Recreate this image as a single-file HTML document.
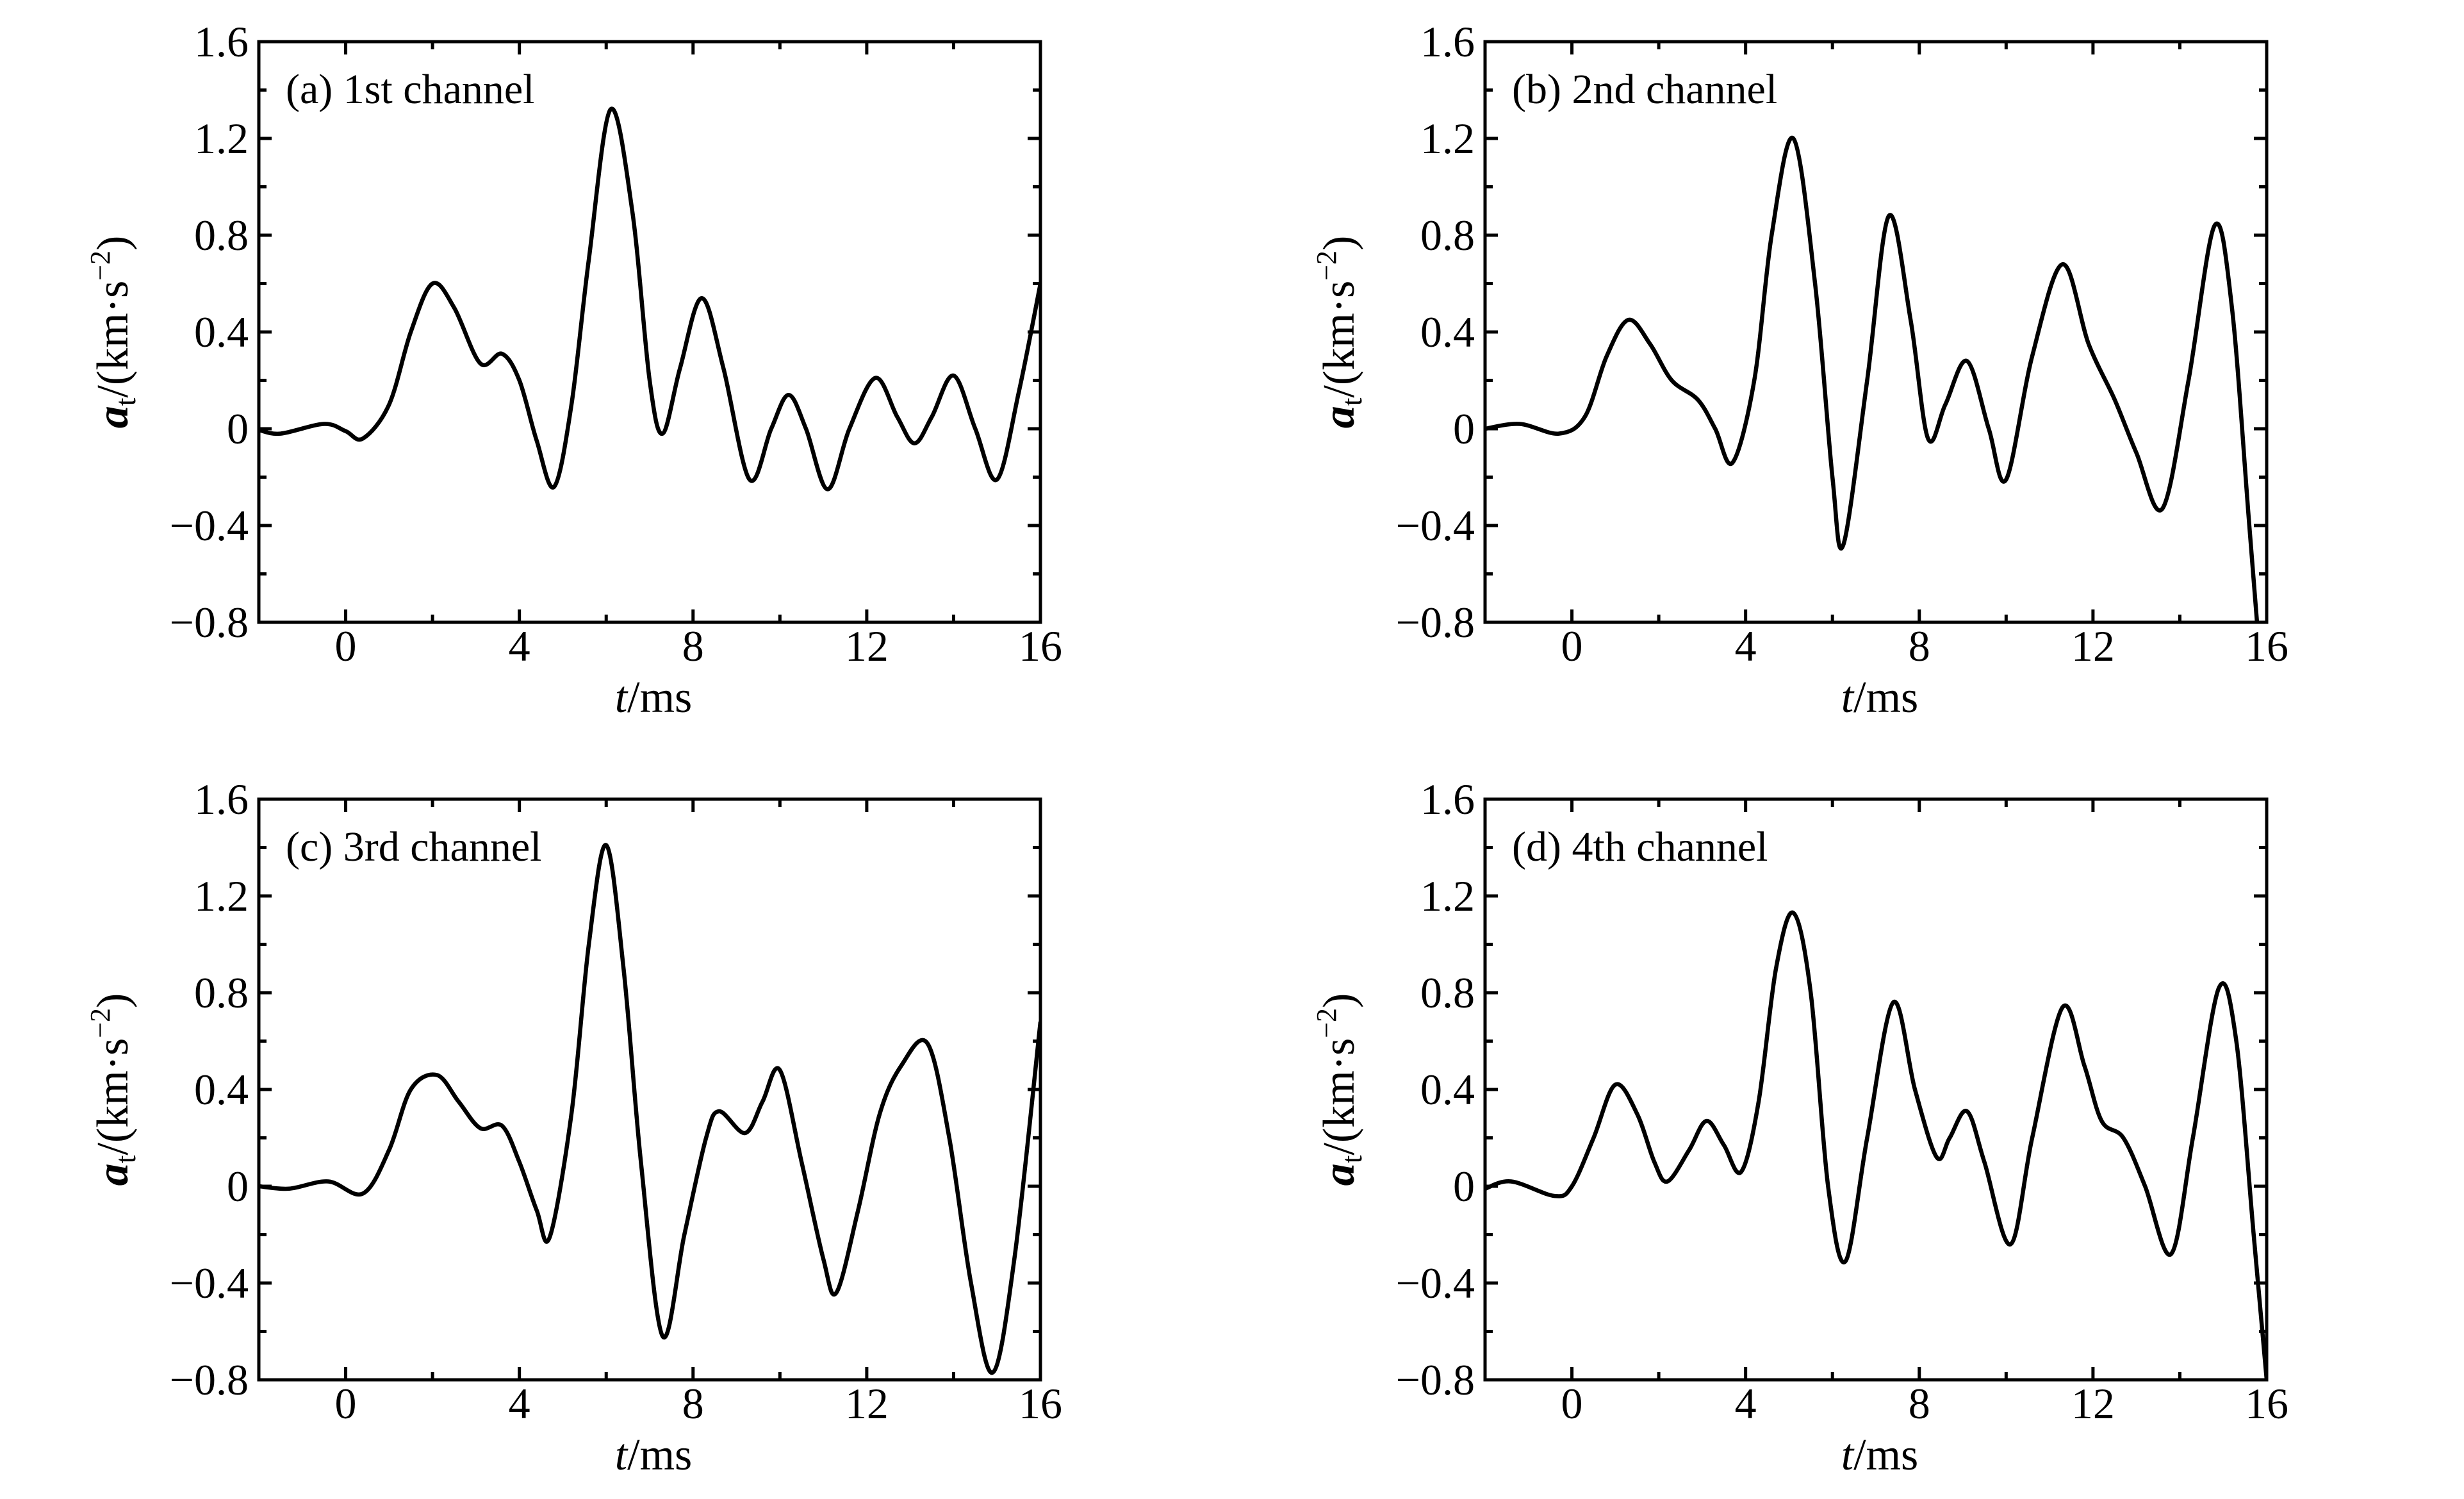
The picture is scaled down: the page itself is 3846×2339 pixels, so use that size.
<!DOCTYPE html>
<html><head><meta charset="utf-8">
<style>
html,body{margin:0;padding:0;background:#fff;}
svg{display:block;}
text{font-family:"Liberation Serif",serif;fill:#000;}
</style></head>
<body>
<svg id="fig" width="3846" height="2339" viewBox="0 0 3846 2339" xmlns="http://www.w3.org/2000/svg"></svg>
<script>
const xTicks = [0,4,8,12,16];
const yTicks = [-0.8,-0.4,0,0.4,0.8,1.2,1.6];
const yTickLabels = ["\u22120.8","\u22120.4","0","0.4","0.8","1.2","1.6"];
const panelTitles = ["(a) 1st channel","(b) 2nd channel","(c) 3rd channel","(d) 4th channel"];

const tA = [-2,-1.5,-0.5,0,0.4,1,1.5,2,2.5,3.1,3.6,4,4.4,4.8,5.2,5.6,6.1,6.6,7,7.3,7.7,8.2,8.7,9.3,9.8,10.2,10.6,11.1,11.6,12.2,12.7,13.1,13.5,14,14.5,15,15.5,16];
const vA = [-0.005,-0.02,0.02,-0.01,-0.04,0.1,0.4,0.6,0.5,0.27,0.31,0.2,-0.05,-0.24,0.1,0.7,1.32,0.9,0.2,-0.02,0.25,0.54,0.25,-0.21,0,0.14,0,-0.25,0,0.21,0.05,-0.06,0.05,0.22,0,-0.21,0.15,0.6];

const tB = [-2,-1.2,-0.3,0.3,0.8,1.3,1.8,2.3,2.9,3.3,3.7,4.2,4.6,5.1,5.6,6,6.25,6.8,7.3,7.8,8.2,8.6,9.1,9.6,10,10.6,11.3,11.9,12.5,13,13.6,14.2,14.8,15.2,15.6,16];
const vB = [0,0.02,-0.02,0.05,0.3,0.45,0.35,0.2,0.12,0,-0.14,0.2,0.8,1.2,0.6,-0.2,-0.48,0.2,0.88,0.45,-0.04,0.1,0.28,0,-0.21,0.3,0.68,0.35,0.12,-0.1,-0.33,0.2,0.84,0.5,-0.4,-1.3];

const tC = [-2,-1.3,-0.4,0.4,1,1.5,2.1,2.6,3.1,3.6,4,4.4,4.7,5.2,5.6,6,6.4,6.8,7.3,7.8,8.3,8.6,9.2,9.6,10,10.5,11,11.3,11.8,12.3,12.8,13.4,13.9,14.4,14.9,15.4,16];
const vC = [0,-0.01,0.02,-0.03,0.15,0.4,0.46,0.35,0.24,0.25,0.1,-0.1,-0.21,0.3,1.0,1.41,0.9,0.1,-0.62,-0.2,0.2,0.31,0.22,0.35,0.48,0.1,-0.3,-0.44,-0.1,0.3,0.5,0.59,0.2,-0.4,-0.77,-0.3,0.68];

const tD = [-2,-1.4,-0.4,0,0.5,1,1.5,1.9,2.2,2.7,3.1,3.5,3.9,4.3,4.7,5.1,5.5,5.9,6.3,6.8,7.4,7.9,8.4,8.7,9.1,9.5,10.1,10.6,11.3,11.8,12.2,12.7,13.2,13.8,14.3,14.9,15.3,15.7,16];
const vD = [-0.01,0.02,-0.04,0,0.2,0.42,0.3,0.1,0.02,0.15,0.27,0.17,0.06,0.35,0.9,1.13,0.8,0,-0.31,0.2,0.76,0.4,0.12,0.2,0.31,0.1,-0.24,0.2,0.74,0.5,0.27,0.2,0,-0.28,0.2,0.82,0.6,-0.2,-0.8];

const seriesT = [tA,tB,tC,tD];
const seriesV = [vA,vB,vC,vD];

const NS = "http://www.w3.org/2000/svg";
const svg = document.getElementById('fig');
const W = 1220, H = 906;
const origins = [[404,65],[2318,65],[404,1247],[2318,1247]];
const XMIN=-2, XMAX=16, YMIN=-0.8, YMAX=1.6;

function mk(tag, attrs, parent){
  const e = document.createElementNS(NS, tag);
  for (const k in attrs) e.setAttribute(k, attrs[k]);
  parent.appendChild(e);
  return e;
}

origins.forEach((o, i) => {
  const [x0, y0] = o;
  const sx = t => x0 + (t - XMIN) / (XMAX - XMIN) * W;
  const sy = v => y0 + H - (v - YMIN) / (YMAX - YMIN) * H;
  const g = mk('g', {}, svg);
  
  

  const cp = mk('clipPath', {id: 'clip' + i}, g);
  mk('rect', {x: x0, y: y0, width: W, height: H}, cp);

  const T = seriesT[i], V = seriesV[i];
  const P = T.map((t, k) => [sx(t), sy(V[k])]);
  let d = 'M' + P[0][0].toFixed(1) + ',' + P[0][1].toFixed(1);
  for (let k = 0; k < P.length - 1; k++) {
    const p0 = P[k - 1] || P[k], p1 = P[k], p2 = P[k + 1], p3 = P[k + 2] || P[k + 1];
    const c1 = [p1[0] + (p2[0] - p0[0]) / 6, p1[1] + (p2[1] - p0[1]) / 6];
    const c2 = [p2[0] - (p3[0] - p1[0]) / 6, p2[1] - (p3[1] - p1[1]) / 6];
    d += 'C' + c1[0].toFixed(1) + ',' + c1[1].toFixed(1) + ' ' + c2[0].toFixed(1) + ',' + c2[1].toFixed(1) + ' ' + p2[0].toFixed(1) + ',' + p2[1].toFixed(1);
  }
  const path = mk('path', {d: d, fill: 'none', stroke: '#000', 'stroke-width': 6.5, 'stroke-linejoin': 'round', 'clip-path': 'url(#clip' + i + ')'}, g);
  
  

  const fr = mk('rect', {x: x0, y: y0, width: W, height: H, fill: 'none', stroke: '#000', 'stroke-width': 5}, g);
  
  

  for (let t = 0; t <= 16; t += 2) {
    const L = (t % 4 === 0) ? 20 : 12;
    const x = sx(t);
    mk('line', {x1: x, y1: y0 + H, x2: x, y2: y0 + H - L, stroke: '#000', 'stroke-width': 5}, g);
    mk('line', {x1: x, y1: y0, x2: x, y2: y0 + L, stroke: '#000', 'stroke-width': 5}, g);
  }
  xTicks.forEach(t => {
    const tx = mk('text', {x: sx(t), y: y0 + H + 60, 'font-size': 68, 'text-anchor': 'middle'}, g);
    
    
    tx.textContent = String(t);
  });
  for (let k = 0; k <= 12; k++) {
    const v = YMIN + k * 0.2;
    const L = (k % 2 === 0) ? 20 : 12;
    const y = sy(v);
    mk('line', {x1: x0, y1: y, x2: x0 + L, y2: y, stroke: '#000', 'stroke-width': 5}, g);
    mk('line', {x1: x0 + W, y1: y, x2: x0 + W - L, y2: y, stroke: '#000', 'stroke-width': 5}, g);
  }
  yTicks.forEach((v, k) => {
    const ty = mk('text', {x: x0 - 16, y: sy(v) + 23, 'font-size': 68, 'text-anchor': 'end'}, g);
    
    
    ty.textContent = yTickLabels[k];
  });

  const ti = mk('text', {x: x0 + 42, y: y0 + 96, 'font-size': 66}, g);
  
  
  ti.textContent = panelTitles[i];

  const xl = mk('text', {x: x0 + W / 2 + 6, y: y0 + H + 140, 'font-size': 70, 'text-anchor': 'middle'}, g);
  
  
  xl.innerHTML = '<tspan font-style="italic">t</tspan>/ms';

  const cx = x0 - 205, cy = y0 + H / 2;
  const yl = mk('text', {x: cx, y: cy, 'font-size': 70, 'text-anchor': 'middle', transform: 'rotate(-90 ' + cx + ' ' + cy + ')'}, g);
  
  
  yl.innerHTML = '<tspan font-style="italic" font-weight="bold">a</tspan><tspan font-size="46" dy="12">t</tspan><tspan dy="-12">/(km\u00B7s</tspan><tspan font-size="44" dy="-28">\u22122</tspan><tspan dy="28">)</tspan>';
});
</script>
</body></html>
